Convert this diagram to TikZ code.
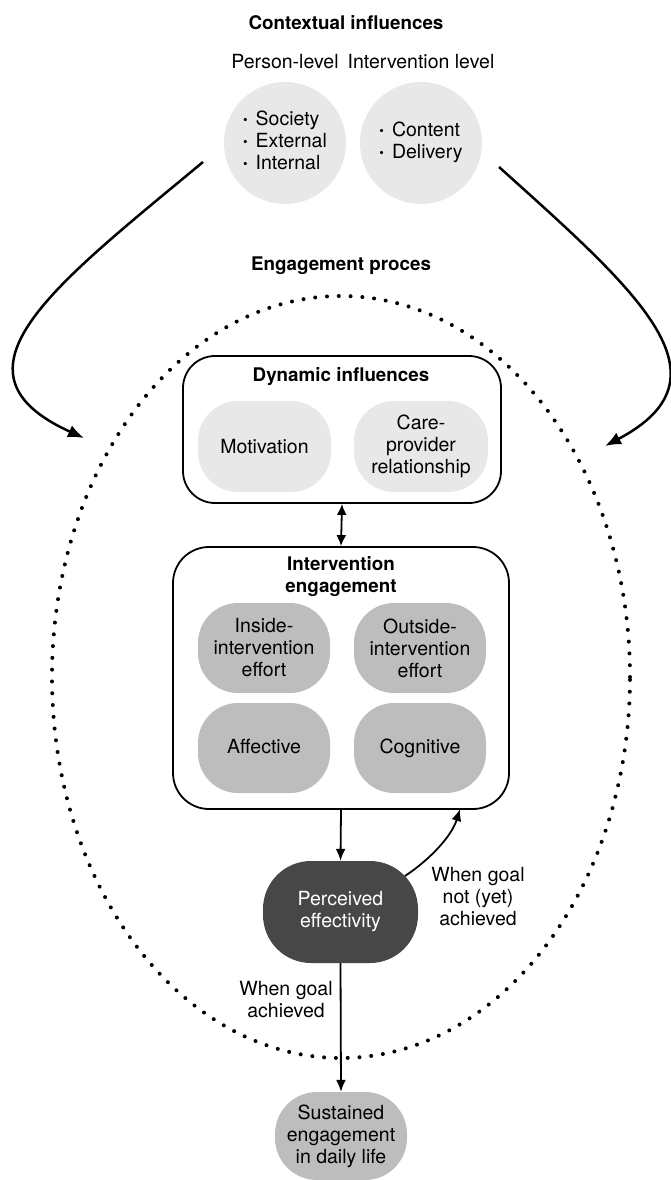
\documentclass[tikz,border=0pt]{standalone}
\usepackage{fontspec}
\setmainfont{TeX Gyre Heros}
\usetikzlibrary{arrows.meta,calc}
\definecolor{lightg}{HTML}{E8E8E8}
\definecolor{midg}{HTML}{BDBDBD}
\definecolor{darkg}{HTML}{474747}
\newcommand{\bul}{{\fontsize{13}{13}\selectfont\raisebox{1pt}{\textbullet}}}
\begin{document}
\begin{tikzpicture}[x=1pt,y=-1pt,
  font=\fontsize{19.5}{22}\selectfont,
  txt/.style={align=center, inner sep=0pt},
  ttl/.style={txt, font=\fontsize{18.8}{22}\selectfont\bfseries},
  circ/.style={circle, fill=lightg, minimum size=122pt, inner sep=0pt, align=center},
  lpill/.style={rectangle, rounded corners=40pt, fill=lightg, minimum width=133pt, minimum height=91pt, inner sep=0pt, align=center},
  mpill/.style={rectangle, rounded corners=40pt, fill=midg, minimum width=132pt, minimum height=90pt, inner sep=0pt, align=center},
  frame/.style={draw, line width=1.8pt, rounded corners=32pt, inner sep=0pt},
  arr/.style={-{Latex[length=12pt,width=10pt]}, line width=1.8pt},
  dblarr/.style={{Latex[length=11pt,width=10pt]}-{Latex[length=11pt,width=10pt]}, line width=1.8pt},
  bigarr/.style={-{Latex[length=16pt,width=13pt]}, line width=2.5pt},
  dotline/.style={line width=4pt, dash pattern=on 0pt off 11.8pt, line cap=round}
]
\useasboundingbox (0,0) rectangle (670,1180);

% Contextual influences
\node[ttl] (ctx) at (346,23) {Contextual influences};
\node[txt] (pl) at (285,62) {Person-level};
\node[txt] (il) at (421,62) {Intervention level};
\node[circ] (c1) at (285,143) {\begin{tabular}{@{}l@{\hspace{8pt}}l@{}}\bul&Society\\\bul&External\\\bul&Internal\end{tabular}};
\node[circ] (c2) at (421,143) {\begin{tabular}{@{}l@{\hspace{8pt}}l@{}}\bul&Content\\\bul&Delivery\end{tabular}};

% Engagement process
\node[ttl] (ep) at (341,266) {Engagement proces};
\draw[dotline] (341,677) ellipse [x radius=289pt, y radius=381pt];

% Dynamic influences
\node[frame, minimum width=318pt, minimum height=147pt] (di) at (342,429.5) {};
\node[ttl] (dit) at (341,377) {Dynamic influences};
\node[lpill] (mot) at (264.5,446.5) {Motivation};
\node[lpill, minimum width=134pt] (care) at (421,446.5) {Care-\\provider\\relationship};

% Intervention engagement
\node[frame, rounded corners=36pt, minimum width=336pt, minimum height=262pt] (ie) at (341,678) {};
\node[ttl] (iet) at (341,576.5) {Intervention\\engagement};
\node[mpill] (ins) at (264,648) {Inside-\\intervention\\effort};
\node[mpill] (out) at (420,648) {Outside-\\intervention\\effort};
\node[mpill] (aff) at (264,748) {Affective\vphantom{g}};
\node[mpill] (cog) at (420,748) {Cognitive};

% Perceived effectivity
\node[rectangle, rounded corners=48pt, fill=darkg, text=white, minimum width=155pt, minimum height=102pt, inner sep=0pt, align=center] (pe) at (340.5,912) {Perceived\\effectivity};

% Sustained engagement
\node[rectangle, rounded corners=42pt, fill=midg, minimum width=132pt, minimum height=88pt, inner sep=0pt, align=center] (sus) at (341,1136) {Sustained\\engagement\\in daily life};

% labels
\node[txt] (ng) at (478,897) {When goal\\not (yet)\\achieved};
\node[txt] (g) at (286,1000) {When goal\\achieved};

% connectors
\draw[dblarr] (di.south) -- (ie.north);
\draw[arr] (ie.south) -- (pe.north);
\draw[arr] (pe.south) -- (sus.north);
\coordinate (fb0) at (405,876);
\coordinate (fb1) at (460,809);
\draw[arr] (fb0) .. controls (432,858) and (452,835) .. (fb1);

\coordinate (l0) at (203,162);
\coordinate (l1) at (84,438);
\draw[bigarr] (l0) .. controls (55,285) and (-62,372) .. (l1);
\coordinate (r0) at (499,167);
\coordinate (r1) at (605,446);
\draw[bigarr] (r0) .. controls (638,292) and (736,377) .. (r1);
\end{tikzpicture}
\end{document}
